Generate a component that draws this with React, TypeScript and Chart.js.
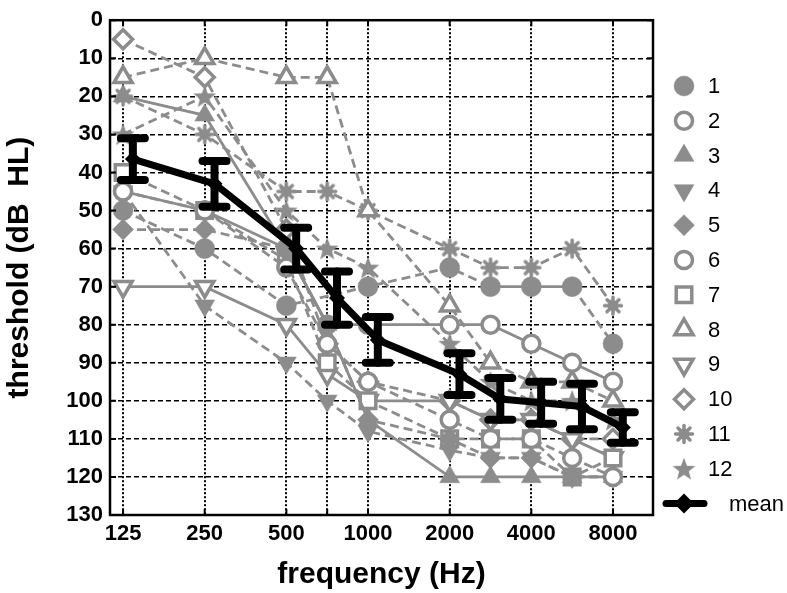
import React, { useEffect, useRef } from 'react';
import { Chart, registerables } from 'chart.js';
import { drawPoint } from 'chart.js/helpers';

Chart.register(...registerables);

// ---------- data ----------
const FREQS = [125, 250, 500, 750, 1000, 2000, 3000, 4000, 6000, 8000];
const X_TICK_FREQS = [125, 250, 500, 750, 1000, 2000, 4000, 8000];
const X_LABEL_FREQS = [125, 250, 500, 1000, 2000, 4000, 8000];
const Y_TICKS = [0, 10, 20, 30, 40, 50, 60, 70, 80, 90, 100, 110, 120, 130];

const S1 = [50, 60, 75, null, 70, 65, 70, 70, 70, 85];
const S2 = [45, 50, 65, 85, 95, 105, 110, 110, 115, 120];
const S3 = [20, 25, 60, 80, 105, 120, 120, 120, 120, 120];
const S4 = [45, 75, 90, 100, 108, 113, 115, 115, 120, 120];
const S5 = [55, 55, 60, 80, 105, 110, 115, 115, 120, 120];
const S6 = [45, 50, 60, 80, 80, 80, 80, 85, 90, 95];
const S7 = [40, 50, 63, 90, 100, 110, 110, 110, 120, 115];
const S8 = [15, 10, 15, 15, 50, 75, 90, 95, 95, 100];
const S9 = [70, 70, 80, 93, 100, 100, 105, 105, 110, 115];
const S10 = [5, 15, 55, 85, 95, 100, 105, 105, 110, 110];
const S11 = [20, 30, 45, 45, 50, 60, 65, 65, 60, 75];
const S12 = [30, 20, 50, 60, 65, 85, 95, 100, 100, 105];
const SERIES = [S1, S2, S3, S4, S5, S6, S7, S8, S9, S10, S11, S12];
const SERIES_NAMES = ['1', '2', '3', '4', '5', '6', '7', '8', '9', '10', '11', '12'];

const MEAN = [36.5, 43, 60, 73, 84, 93, 99.5, 100.5, 101.5, 107];
const MEAN_ERR = [5.5, 6, 5.5, 7, 6, 5.5, 5.5, 5.5, 6, 4];

// ---------- styling ----------
const GRAY = '#8c8c8c';
const FONT = "'Liberation Sans', Arial, sans-serif";

// octave-based position: intermediate frequencies sit midway between octaves
function octavePos(f: number): number {
  const o = Math.log2(f / 125);
  const fl = Math.floor(o + 1e-9);
  return Math.abs(o - fl) < 1e-6 ? fl : fl + 0.5;
}

function makeStar(): HTMLCanvasElement {
  const c = document.createElement('canvas');
  c.width = 24; c.height = 24;
  const g = c.getContext('2d')!;
  g.fillStyle = GRAY;
  g.beginPath();
  for (let i = 0; i < 10; i++) {
    const r = i % 2 === 0 ? 12 : 5;
    const a = -Math.PI / 2 + (i * Math.PI) / 5;
    const x = 12 + r * Math.cos(a);
    const y = 13 + r * Math.sin(a);
    if (i === 0) g.moveTo(x, y); else g.lineTo(x, y);
  }
  g.closePath();
  g.fill();
  return c;
}

function makeAsterisk(): HTMLCanvasElement {
  const c = document.createElement('canvas');
  c.width = 22; c.height = 22;
  const g = c.getContext('2d')!;
  g.strokeStyle = GRAY;
  g.fillStyle = GRAY;
  g.lineWidth = 3.5;
  g.lineCap = 'round';
  for (let k = 0; k < 8; k++) {
    const a = (k * Math.PI) / 4;
    g.beginPath();
    g.moveTo(11, 11);
    g.lineTo(11 + 8.5 * Math.cos(a), 11 + 8.5 * Math.sin(a));
    g.stroke();
  }
  g.beginPath();
  g.arc(11, 11, 5.5, 0, Math.PI * 2);
  g.fill();
  return c;
}

type Marker = { style: any; filled: boolean; rot: number; radius: number };

function markerDefs(): Marker[] {
  const star = makeStar();
  const ast = makeAsterisk();
  return [
    { style: 'circle', filled: true, rot: 0, radius: 10 },
    { style: 'circle', filled: false, rot: 0, radius: 8.5 },
    { style: 'triangle', filled: true, rot: 0, radius: 11.5 },
    { style: 'triangle', filled: true, rot: 180, radius: 11.5 },
    { style: 'rectRot', filled: true, rot: 0, radius: 10.5 },
    { style: 'circle', filled: false, rot: 0, radius: 8.5 },
    { style: 'rect', filled: false, rot: 0, radius: 11 },
    { style: 'triangle', filled: false, rot: 0, radius: 10.5 },
    { style: 'triangle', filled: false, rot: 180, radius: 10.5 },
    { style: 'rectRot', filled: false, rot: 0, radius: 9.5 },
    { style: ast, filled: true, rot: 0, radius: 10 },
    { style: star, filled: true, rot: 0, radius: 10 },
  ];
}

const SOLID_SERIES = [2, 5, 8]; // zero-based indices of series drawn with solid lines
const S1_SOLID_SEGMENTS = [6, 7]; // segments of series 1 drawn solid

export default function App() {
  const ref = useRef<HTMLCanvasElement | null>(null);

  useEffect(() => {
    const canvas = ref.current;
    if (!canvas) return;
    const markers = markerDefs();

    const datasets: any[] = [];
    datasets.push({
      label: 'mean',
      data: FREQS.map((f, i) => ({ x: octavePos(f) + 0.12, y: MEAN[i] })),
      borderColor: '#000',
      backgroundColor: '#000',
      borderWidth: 7,
      pointStyle: 'rectRot',
      pointRadius: 8,
      pointBorderWidth: 0,
      order: -1,
      borderJoinStyle: 'round',
    });
    SERIES.forEach((vals, si) => {
      const m = markers[si];
      const solid = SOLID_SERIES.includes(si);
      datasets.push({
        label: SERIES_NAMES[si],
        data: FREQS.map((f, i) => ({ x: octavePos(f), y: vals[i] })),
        borderColor: GRAY,
        backgroundColor: m.filled ? GRAY : '#ffffff',
        pointBorderColor: GRAY,
        pointBackgroundColor: m.filled ? GRAY : '#ffffff',
        borderWidth: 2.8,
        pointStyle: m.style,
        pointRotation: m.rot,
        pointRadius: m.radius,
        pointBorderWidth: m.filled ? 0.5 : 3.5,
        spanGaps: true,
        order: si + 1,
        segment: {
          borderDash: (ctx: any) => {
            if (solid) return [];
            if (si === 0 && S1_SOLID_SEGMENTS.includes(ctx.p0DataIndex)) return [];
            return [9, 5];
          },
        },
      });
    });

    const framePlugin = {
      id: 'frameAndExtras',
      afterDatasetsDraw(chart: any) {
        const { ctx, scales } = chart;
        const ys = scales.y;
        const meta = chart.getDatasetMeta(0);
        ctx.save();
        ctx.strokeStyle = '#000';
        ctx.lineCap = 'round';
        meta.data.forEach((pt: any, i: number) => {
          const x = pt.x;
          const y1 = ys.getPixelForValue(MEAN[i] - MEAN_ERR[i]);
          const y2 = ys.getPixelForValue(MEAN[i] + MEAN_ERR[i]);
          ctx.lineWidth = 8;
          ctx.beginPath();
          ctx.moveTo(x, y1); ctx.lineTo(x, y2);
          ctx.stroke();
          ctx.beginPath();
          ctx.moveTo(x - 12, y1); ctx.lineTo(x + 12, y1);
          ctx.moveTo(x - 12, y2); ctx.lineTo(x + 12, y2);
          ctx.stroke();
        });
        ctx.restore();
      },
      afterDraw(chart: any) {
        const { ctx, chartArea: a, scales } = chart;
        const xs = scales.x, ys = scales.y;
        ctx.save();
        ctx.strokeStyle = '#000';
        ctx.lineWidth = 2;
        ctx.setLineDash([]);
        ctx.beginPath();
        X_TICK_FREQS.forEach((f) => {
          const x = xs.getPixelForValue(octavePos(f));
          ctx.moveTo(x, a.bottom); ctx.lineTo(x, a.bottom - 6);
          ctx.moveTo(x, a.top); ctx.lineTo(x, a.top + 6);
        });
        Y_TICKS.forEach((v) => {
          const y = ys.getPixelForValue(v);
          ctx.moveTo(a.left, y); ctx.lineTo(a.left + 6, y);
          ctx.moveTo(a.right, y); ctx.lineTo(a.right - 6, y);
        });
        ctx.stroke();
        ctx.lineWidth = 2.5;
        ctx.strokeRect(a.left, a.top, a.right - a.left, a.bottom - a.top);

        // legend
        const lx = 684;
        const ly0 = 86;
        const step = 34.8;
        const tx = 708;
        ctx.textBaseline = 'middle';
        ctx.textAlign = 'left';
        ctx.font = `22px ${FONT}`;
        SERIES.forEach((_, si) => {
          const m = markers[si];
          const y = ly0 + step * si;
          ctx.fillStyle = m.filled ? GRAY : '#ffffff';
          ctx.strokeStyle = GRAY;
          ctx.lineWidth = m.filled ? 0.5 : 3.5;
          drawPoint(ctx, { pointStyle: m.style, rotation: m.rot, radius: m.radius, borderWidth: m.filled ? 0.5 : 3.5 } as any, lx, y);
          ctx.fillStyle = '#000';
          ctx.fillText(SERIES_NAMES[si], tx, y + 1);
        });
        const my = ly0 + step * 12;
        ctx.strokeStyle = '#000';
        ctx.lineWidth = 7;
        ctx.lineCap = 'round';
        ctx.beginPath();
        ctx.moveTo(666, my); ctx.lineTo(704, my);
        ctx.stroke();
        ctx.fillStyle = '#000';
        drawPoint(ctx, { pointStyle: 'rectRot', rotation: 0, radius: 10, borderWidth: 0 } as any, lx, my);
        ctx.fillText('mean', 729, my + 1);
        ctx.restore();
      },
    };

    const chart = new Chart(canvas, {
      type: 'line',
      data: { datasets },
      options: {
        animation: false,
        responsive: false,
        maintainAspectRatio: false,
        layout: { padding: { top: 9, right: 134, bottom: 0, left: 0 } },
        plugins: { legend: { display: false }, tooltip: { enabled: false } },
        scales: {
          x: {
            type: 'linear',
            min: -0.16,
            max: 6.49,
            afterBuildTicks: (s: any) => {
              s.ticks = X_TICK_FREQS.map((f) => ({ value: octavePos(f) }));
            },
            afterFit: (s: any) => { s.height = 78; },
            ticks: {
              autoSkip: false,
              maxRotation: 0,
              padding: 6,
              color: '#000',
              font: { family: FONT, size: 22, weight: 'bold' },
              callback: (v: any) => {
                const f = X_LABEL_FREQS.find((q) => Math.abs(octavePos(q) - v) < 1e-6);
                return f ? String(f) : '';
              },
            },
            grid: { color: '#000', lineWidth: 2, drawTicks: false },
            border: { display: false, dash: [2, 2] },
            title: {
              display: true,
              text: 'frequency (Hz)',
              color: '#000',
              font: { family: FONT, size: 30, weight: 'bold' },
              padding: { top: 0, bottom: 0 },
            },
          },
          y: {
            type: 'linear',
            reverse: true,
            min: 0,
            max: 130,
            afterBuildTicks: (s: any) => {
              s.ticks = Y_TICKS.map((v) => ({ value: v }));
            },
            afterFit: (s: any) => { s.width = 110; },
            ticks: {
              padding: 7,
              color: '#000',
              font: { family: FONT, size: 22, weight: 'bold' },
            },
            grid: { color: '#000', lineWidth: 1.5, drawTicks: false },
            border: { display: false, dash: [5, 3] },
            title: {
              display: true,
              text: 'threshold (dB  HL)',
              color: '#000',
              font: { family: FONT, size: 30, weight: 'bold' },
              padding: { top: 2, bottom: 0 },
            },
          },
        },
      },
      plugins: [framePlugin],
    } as any);

    return () => chart.destroy();
  }, []);

  return (
    <div style={{ position: 'fixed', left: 0, top: 0, width: 787, height: 593, background: '#fff' }}>
      <canvas ref={ref} width={787} height={593} style={{ width: 787, height: 593, display: 'block' }} />
    </div>
  );
}
